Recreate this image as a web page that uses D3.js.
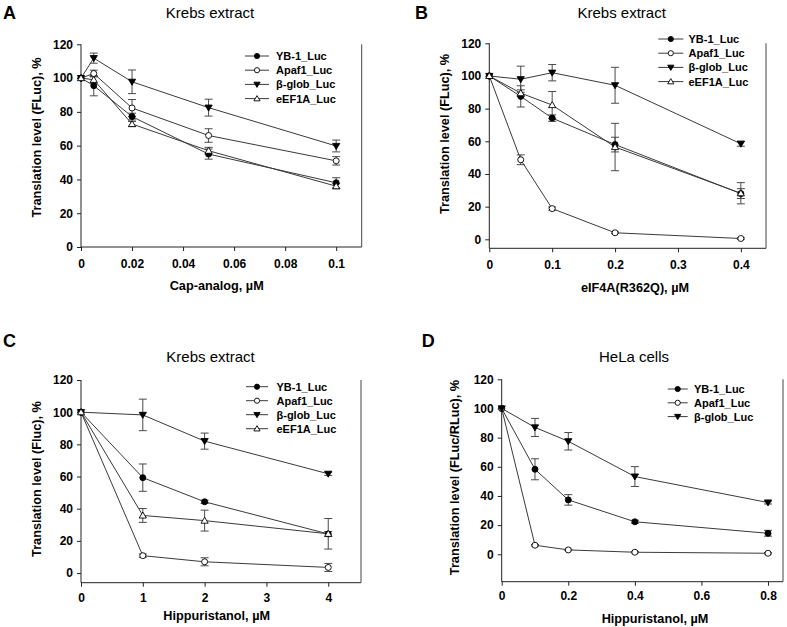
<!DOCTYPE html>
<html><head><meta charset="utf-8">
<script src="https://cdn.jsdelivr.net/npm/d3@7"></script>
<style>body{margin:0;background:#fff}svg{display:block}text{font-family:"Liberation Sans",Arial,sans-serif;fill:#000}</style>
</head><body><svg id="c" width="787" height="627"></svg>
<script>
// ---------- DATA ----------
const seriesNames = ["YB-1_Luc", "Apaf1_Luc", "β-glob_Luc", "eEF1A_Luc"];
const markerTypes = ["filledCircle", "openCircle", "filledDown", "openUp"];
const yTicks = [0, 20, 40, 60, 80, 100, 120];

// Panel A: Cap-analog
const xA = [0, 0.005, 0.02, 0.05, 0.1];
const xTicksA = [0, 0.02, 0.04, 0.06, 0.08, 0.1];
const xTickLabelsA = ["0", "0.02", "0.04", "0.06", "0.08", "0.1"];
const aYB1 = [100, 95.5, 77.2, 55, 38];
const aYB1Err = [0, 6, 2, 3, 3];
const aApaf1 = [100, 102.7, 82.3, 66, 51];
const aApaf1Err = [0, 2, 5, 4, 2.5];
const aBglob = [100, 111.8, 97.8, 82.5, 59.8];
const aBglobErr = [0, 3, 7, 5, 3.5];
const aEEF1A = [100, 99, 72.8, 57, 36];
const aEEF1AErr = [0, 2, 1.5, 2, 1.5];

// Panel B: eIF4A(R362Q)
const xB = [0, 0.05, 0.1, 0.2, 0.4];
const xTicksB = [0, 0.1, 0.2, 0.3, 0.4];
const xTickLabelsB = ["0", "0.1", "0.2", "0.3", "0.4"];
const bYB1 = [100, 87.5, 74.2, 58, 28];
const bYB1Err = [0, 6.5, 2, 4.5, 3];
const bApaf1 = [100, 48.7, 18.8, 4, 0.5];
const bApaf1Err = [0, 3, 1, 0.5, 0.5];
const bBglob = [100, 98, 102, 94.3, 58.5];
const bBglobErr = [0, 8, 5, 11, 1.5];
const bEEF1A = [100, 89.5, 82.2, 56.5, 28.2];
const bEEF1AErr = [0, 2, 8.3, 14.5, 6.5];

// Panel C: Hippuristanol (Krebs)
const xC = [0, 1, 2, 4];
const xTicksC = [0, 1, 2, 3, 4];
const xTickLabelsC = ["0", "1", "2", "3", "4"];
const cYB1 = [100, 59.3, 44.3, 24.3];
const cYB1Err = [0, 8.5, 1, 1.5];
const cApaf1 = [100, 10.8, 7, 3.5];
const cApaf1Err = [0, 1, 2.5, 2.5];
const cBglob = [100, 98.3, 82, 61.7];
const cBglobErr = [0, 9.8, 5, 1];
const cEEF1A = [100, 35.8, 32.6, 24.4];
const cEEF1AErr = [0, 4.3, 6.5, 9.5];

// Panel D: Hippuristanol (HeLa)
const xD = [0, 0.1, 0.2, 0.4, 0.8];
const xTicksD = [0, 0.2, 0.4, 0.6, 0.8];
const xTickLabelsD = ["0", "0.2", "0.4", "0.6", "0.8"];
const dYB1 = [100, 58.3, 37.3, 22.3, 14.4];
const dYB1Err = [0, 7.2, 3.6, 1, 2];
const dApaf1 = [100, 6.2, 3, 1.4, 0.7];
const dApaf1Err = [0, 0.5, 0.5, 0.5, 0.5];
const dBglob = [100, 87, 77.5, 53.3, 35.5];
const dBglobErr = [0, 6.2, 6, 6.8, 1];

// ---------- LAYOUT ----------
const panels = [
  { letter: "A", lx: 3, ly: 18.5, title: "Krebs extract", tx: 210, ty: 17.5,
    xlabel: "Cap-analog, µM", xlx: 216.7, xly: 290, ylabel: "Translation level (FLuc), %", ylx: 41, yly: 137.5,
    left: 81, right: 361.7, top: 44.3, bottom: 247, xMax: 0.11, yMin: 0, xPad: 8.5,
    x: xA, xTicks: xTicksA, xTickLabels: xTickLabelsA,
    ys: [aYB1, aApaf1, aBglob, aEEF1A], errs: [aYB1Err, aApaf1Err, aBglobErr, aEEF1AErr],
    legX0: 245, legX1: 269, legTx: 276, legY0: 56, legDy: 14.2 },
  { letter: "B", lx: 415, ly: 18.5, title: "Krebs extract", tx: 621.7, ty: 17.5,
    xlabel: "eIF4A(R362Q), µM", xlx: 635, xly: 291.7, ylabel: "Translation level (FLuc), %", ylx: 449, yly: 134,
    left: 489.3, right: 766, top: 43.3, bottom: 248.3, xMax: 0.44, yMin: -5.5, xPad: 8.5,
    x: xB, xTicks: xTicksB, xTickLabels: xTickLabelsB,
    ys: [bYB1, bApaf1, bBglob, bEEF1A], errs: [bYB1Err, bApaf1Err, bBglobErr, bEEF1AErr],
    legX0: 658.3, legX1: 683.3, legTx: 688.5, legY0: 39, legDy: 14.2 },
  { letter: "C", lx: 3, ly: 346.7, title: "Krebs extract", tx: 210.5, ty: 361.7,
    xlabel: "Hippuristanol, µM", xlx: 216.7, xly: 620, ylabel: "Translation level (Fluc), %", ylx: 41, yly: 479,
    left: 81, right: 361, top: 380, bottom: 582.7, xMax: 4.53, yMin: -6, xPad: 6.5,
    x: xC, xTicks: xTicksC, xTickLabels: xTickLabelsC,
    ys: [cYB1, cApaf1, cBglob, cEEF1A], errs: [cYB1Err, cApaf1Err, cBglobErr, cEEF1AErr],
    legX0: 246, legX1: 268, legTx: 276.5, legY0: 386.7, legDy: 14 },
  { letter: "D", lx: 421.7, ly: 347, title: "HeLa cells", tx: 634, ty: 361.7,
    xlabel: "Hippuristanol, µM", xlx: 655, xly: 623.3, ylabel: "Translation level (FLuc/RLuc), %", ylx: 459, yly: 477.5,
    left: 501.7, right: 783, top: 379.3, bottom: 581.7, xMax: 0.845, yMin: -18.8, xPad: 6,
    x: xD, xTicks: xTicksD, xTickLabels: xTickLabelsD,
    ys: [dYB1, dApaf1, dBglob], errs: [dYB1Err, dApaf1Err, dBglobErr],
    legX0: 667.7, legX1: 687.7, legTx: 694, legY0: 389, legDy: 13.8 }
];

const svg = d3.select("#c");
const LINE = "#3a3a3a";

function marker(g, type, x, y, s) {
  const filled = type.startsWith("filled");
  const fill = filled ? "#000" : "#fff";
  if (type.endsWith("Circle")) {
    g.append("circle").attr("cx", x).attr("cy", y).attr("r", s)
      .attr("fill", fill).attr("stroke", "#000").attr("stroke-width", 0.9);
  } else {
    const h = s * 1.15;
    const w = s * 1.2;
    const up = type.endsWith("Up");
    const p = up
      ? [[x, y - h], [x - w, y + h * 0.75], [x + w, y + h * 0.75]]
      : [[x, y + h], [x - w, y - h * 0.75], [x + w, y - h * 0.75]];
    g.append("path").attr("d", "M" + p.map(q => q.join(",")).join("L") + "Z")
      .attr("fill", fill).attr("stroke", "#000").attr("stroke-width", 0.9);
  }
}

panels.forEach(P => {
  const g = svg.append("g");
  const x = d3.scaleLinear().domain([0, P.xMax]).range([P.left, P.right]);
  const y = d3.scaleLinear().domain([P.yMin, 120]).range([P.bottom, P.top]);

  // letter & title
  g.append("text").attr("x", P.lx).attr("y", P.ly).attr("font-size", 18).attr("font-weight", "bold").text(P.letter);
  g.append("text").attr("x", P.tx).attr("y", P.ty).attr("font-size", 15).attr("text-anchor", "middle").text(P.title);

  // axes
  const ya = g.append("g").attr("transform", `translate(${P.left},0)`)
    .call(d3.axisLeft(y).tickValues(yTicks).tickFormat(d3.format("d")).tickSize(4).tickSizeOuter(0).tickPadding(4));
  const xa = g.append("g").attr("transform", `translate(0,${P.bottom})`)
    .call(d3.axisBottom(x).tickValues(P.xTicks).tickFormat((d, i) => P.xTickLabels[i]).tickSize(4).tickSizeOuter(0).tickPadding(P.xPad));
  [ya, xa].forEach(a => {
    a.selectAll("text").attr("font-size", 12).attr("font-weight", "bold").attr("font-family", '"Liberation Sans",Arial,sans-serif').attr("fill", "#000");
    a.selectAll("line").attr("stroke", "#222");
    a.select(".domain").attr("stroke", "#222");
  });
  xa.select(".domain").attr("d", `M${P.left},0H${P.right}`);
  ya.select(".domain").attr("d", `M0,${P.bottom}V${P.top}`);
  // right frame line
  g.append("line").attr("x1", P.right).attr("x2", P.right).attr("y1", P.top).attr("y2", P.bottom)
    .attr("stroke", "#444").attr("stroke-width", 1);

  // axis labels
  g.append("text").attr("x", P.xlx).attr("y", P.xly).attr("font-size", 12.7).attr("font-weight", "bold")
    .attr("text-anchor", "middle").text(P.xlabel);
  g.append("text").attr("transform", `translate(${P.ylx},${P.yly}) rotate(-90)`).attr("font-size", 12.7)
    .attr("font-weight", "bold").attr("text-anchor", "middle").text(P.ylabel);

  // series lines
  const line = d3.line().x(d => x(d[0])).y(d => y(d[1]));
  P.ys.forEach((vals, si) => {
    g.append("path").datum(P.x.map((xv, i) => [xv, vals[i]])).attr("d", line)
      .attr("fill", "none").attr("stroke", LINE).attr("stroke-width", 1);
  });
  // error bars
  P.ys.forEach((vals, si) => {
    vals.forEach((v, i) => {
      const e = P.errs[si][i];
      if (!e) return;
      const cx = x(P.x[i]);
      const eg = g.append("g").attr("stroke", "#4a4a4a").attr("stroke-width", 1);
      eg.append("line").attr("x1", cx).attr("x2", cx).attr("y1", y(v - e)).attr("y2", y(v + e));
      eg.append("line").attr("x1", cx - 4).attr("x2", cx + 4).attr("y1", y(v - e)).attr("y2", y(v - e));
      eg.append("line").attr("x1", cx - 4).attr("x2", cx + 4).attr("y1", y(v + e)).attr("y2", y(v + e));
    });
  });
  // markers
  P.ys.forEach((vals, si) => {
    vals.forEach((v, i) => marker(g, markerTypes[si], x(P.x[i]), y(v), 3));
  });

  // legend
  P.ys.forEach((vals, si) => {
    const ly = P.legY0 + si * P.legDy;
    g.append("line").attr("x1", P.legX0).attr("x2", P.legX1).attr("y1", ly).attr("y2", ly)
      .attr("stroke", LINE).attr("stroke-width", 1);
    marker(g, markerTypes[si], (P.legX0 + P.legX1) / 2, ly, 2.6);
    g.append("text").attr("x", P.legTx).attr("y", ly).attr("dy", "0.36em").attr("font-size", 11)
      .attr("font-weight", "bold").text(seriesNames[si]);
  });
});
</script>
</body></html>
